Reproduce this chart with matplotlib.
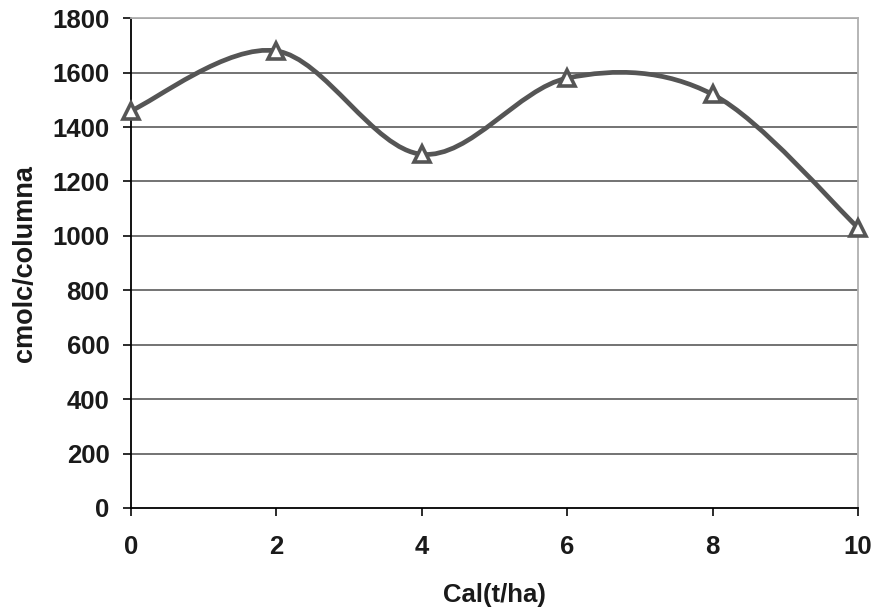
import matplotlib.pyplot as plt
import numpy as np
from matplotlib.path import Path
from matplotlib.patches import PathPatch

plt.rcParams['font.family'] = ['Liberation Sans', 'DejaVu Sans']

cal = [0, 2, 4, 6, 8, 10]
cmolc = [1460, 1680, 1300, 1580, 1520, 1030]

yticks = [0, 200, 400, 600, 800, 1000, 1200, 1400, 1600, 1800]
xticks = [0, 2, 4, 6, 8, 10]


def smooth_path(x, y):
    # curva suavizada tipo Catmull-Rom (bezier cubico entre puntos)
    pts = np.column_stack([x, y]).astype(float)
    n = len(pts)
    verts = [pts[0]]
    codes = [Path.MOVETO]
    for i in range(n - 1):
        p0 = pts[i - 1] if i > 0 else pts[i]
        p1 = pts[i]
        p2 = pts[i + 1]
        p3 = pts[i + 2] if i + 2 < n else pts[i + 1]
        c1 = p1 + (p2 - p0) / 6.0
        c2 = p2 - (p3 - p1) / 6.0
        verts += [c1, c2, p2]
        codes += [Path.CURVE4] * 3
    return Path(verts, codes)


fig = plt.figure(figsize=(8.73, 6.09), dpi=100)
ax = fig.add_axes([0.150, 0.166, 0.833, 0.804])

for yv in yticks[1:]:
    ax.axhline(yv, color='#4d4d4d', lw=1.1, zorder=1)

ax.add_patch(PathPatch(smooth_path(cal, cmolc), facecolor='none',
                       edgecolor='#555555', lw=3.4, zorder=3,
                       capstyle='round', joinstyle='round'))
ax.plot(cal, cmolc, linestyle='none', marker='^', markersize=11.5,
        markerfacecolor='white', markeredgecolor='#555555',
        markeredgewidth=2.6, zorder=4, clip_on=False)

ax.set_xlim(0, 10)
ax.set_ylim(0, 1800)
ax.set_xticks(xticks)
ax.set_yticks(yticks)

ax.spines['left'].set_color('black')
ax.spines['bottom'].set_color('black')
ax.spines['left'].set_linewidth(1.3)
ax.spines['bottom'].set_linewidth(1.3)
ax.spines['top'].set_color('#b0b0b0')
ax.spines['right'].set_color('#b0b0b0')
ax.spines['top'].set_linewidth(1.3)
ax.spines['right'].set_linewidth(1.3)

ax.tick_params(axis='both', direction='out', length=5.5, width=1.3,
               labelsize=18.5, colors='#1a1a1a')
ax.tick_params(axis='y', pad=10)
ax.tick_params(axis='x', pad=14)
for lab in ax.get_xticklabels() + ax.get_yticklabels():
    lab.set_fontweight('bold')

ax.set_xlabel('Cal(t/ha)', fontsize=18.5, fontweight='bold', labelpad=17,
              color='#1a1a1a')
ax.set_ylabel('cmolc/columna', fontsize=19.5, fontweight='bold', labelpad=10,
              color='#1a1a1a')

fig.savefig('out.png', dpi=100)
